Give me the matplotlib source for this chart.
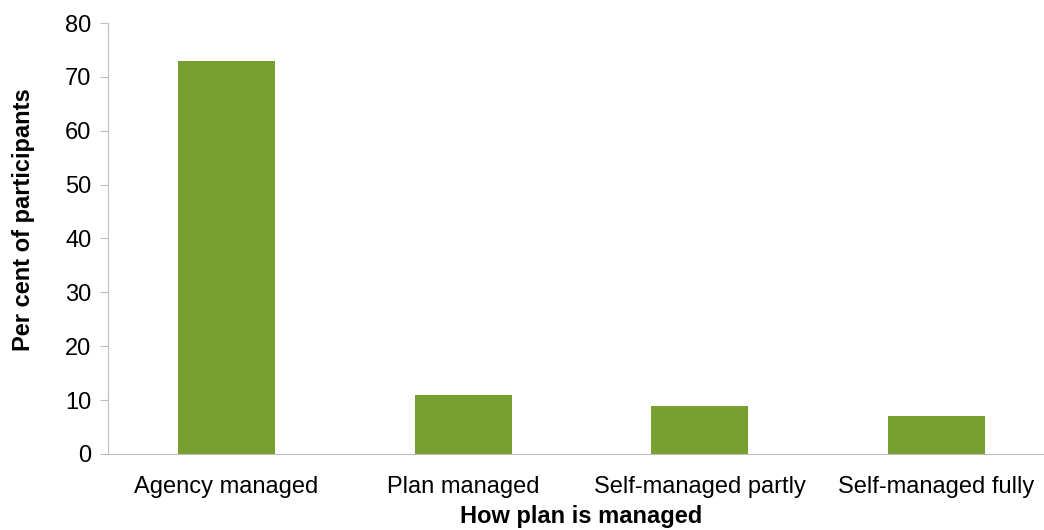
import matplotlib.pyplot as plt

plt.rcParams["font.family"] = "Liberation Sans"

categories = ["Agency managed", "Plan managed", "Self-managed partly", "Self-managed fully"]
values = [73, 11, 9, 7]

fig = plt.figure(figsize=(10.44, 5.30), dpi=100)
ax = fig.add_axes([0.1034, 0.1434, 0.907, 0.8132])

ax.bar(range(len(categories)), values, width=0.41, color="#77A030")
ax.set_xlim(-0.5, 3.5)
ax.set_ylim(0, 80)
ax.set_yticks(range(0, 81, 10))
ax.set_xticks(range(len(categories)))
ax.set_xticklabels(categories)
ax.tick_params(axis="x", length=0, labelsize=17, pad=16)
ax.tick_params(axis="y", length=6, color="#BFBFBF", labelsize=17, pad=6)

for side in ["top", "right"]:
    ax.spines[side].set_visible(False)
for side in ["left", "bottom"]:
    ax.spines[side].set_color("#BFBFBF")

ax.set_xlabel("How plan is managed", fontsize=17, fontweight="bold", labelpad=5)
ax.set_ylabel("Per cent of participants", fontsize=17, fontweight="bold")
ax.yaxis.set_label_coords(-0.077, 0.543)

fig.savefig("out.png", dpi=100)
